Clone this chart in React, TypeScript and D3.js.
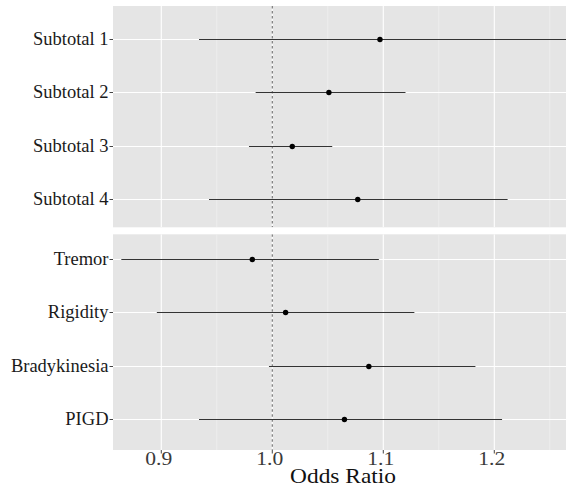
import React, { useEffect, useRef } from 'react';
import * as d3 from 'd3';

// data
const subtotalLabels = ['Subtotal 1', 'Subtotal 2', 'Subtotal 3', 'Subtotal 4'];
const subtotalOR = [1.097, 1.051, 1.018, 1.077];
const subtotalLower = [0.934, 0.985, 0.979, 0.943];
const subtotalUpper = [1.29, 1.12, 1.054, 1.212];

const domainLabels = ['Tremor', 'Rigidity', 'Bradykinesia', 'PIGD'];
const domainOR = [0.982, 1.012, 1.087, 1.065];
const domainLower = [0.864, 0.896, 0.997, 0.934];
const domainUpper = [1.096, 1.128, 1.183, 1.207];

const majorTicks = [0.9, 1.0, 1.1, 1.2];
const minorTicks = [0.95, 1.05, 1.15, 1.25];
const xDomain = [0.8565, 1.2646];

const serif = 'Liberation Serif';

const App = () => {
  const svgRef = useRef<SVGSVGElement>(null);

  useEffect(() => {
    const width = 566;
    const height = 489;
    const left = 113;
    const right = 566;

    const svg = d3.select(svgRef.current)
      .attr('width', width)
      .attr('height', height);
    svg.selectAll('*').remove();

    const x = d3.scaleLinear().domain(xDomain).range([left, right]);

    const panels = [
      { labels: subtotalLabels, or: subtotalOR, lo: subtotalLower, hi: subtotalUpper, top: 6, bottom: 227.3, first: 39, last: 199 },
      { labels: domainLabels, or: domainOR, lo: domainLower, hi: domainUpper, top: 234.3, bottom: 450, first: 259, last: 419 },
    ];

    const defs = svg.append('defs');

    panels.forEach((p, pi) => {
      const y = d3.scalePoint().domain(p.labels).range([p.first, p.last]);
      // crisp 1px horizontal strokes
      const yc = (d: string) => Math.round(y(d)!) + 0.5;
      const g = svg.append('g');
      const clipId = `clip${pi}`;
      defs.append('clipPath').attr('id', clipId)
        .append('rect').attr('x', left).attr('y', p.top).attr('width', right - left).attr('height', p.bottom - p.top);

      // panel background
      g.append('rect')
        .attr('x', left).attr('y', p.top)
        .attr('width', right - left).attr('height', p.bottom - p.top)
        .attr('fill', '#e5e5e5');

      const inner = g.append('g').attr('clip-path', `url(#${clipId})`);

      // grid
      inner.selectAll('.minor').data(minorTicks).join('line')
        .attr('x1', d => x(d)).attr('x2', d => x(d))
        .attr('y1', p.top).attr('y2', p.bottom)
        .attr('stroke', '#f4f4f4').attr('stroke-width', 0.6);
      inner.selectAll('.major').data(majorTicks).join('line')
        .attr('x1', d => x(d)).attr('x2', d => x(d))
        .attr('y1', p.top).attr('y2', p.bottom)
        .attr('stroke', '#ffffff').attr('stroke-width', 1.1);
      inner.selectAll('.hgrid').data(p.labels).join('line')
        .attr('x1', left).attr('x2', right)
        .attr('y1', yc).attr('y2', yc)
        .attr('stroke', '#ffffff').attr('stroke-width', 1.1);

      // reference line at OR = 1
      inner.append('line')
        .attr('x1', x(1)).attr('x2', x(1))
        .attr('y1', p.top).attr('y2', p.bottom)
        .attr('stroke', '#6e6e6e').attr('stroke-width', 1.1)
        .attr('stroke-dasharray', '2.5,2.5');

      // confidence intervals
      inner.selectAll('.ci').data(p.labels).join('line')
        .attr('x1', (d, i) => x(p.lo[i])).attr('x2', (d, i) => x(p.hi[i]))
        .attr('y1', yc).attr('y2', yc)
        .attr('stroke', '#333').attr('stroke-width', 1.1);

      inner.selectAll('.pt').data(p.labels).join('circle')
        .attr('cx', (d, i) => x(p.or[i]))
        .attr('cy', yc)
        .attr('r', 2.7)
        .attr('fill', '#000');

      // y axis ticks + labels
      g.selectAll('.ytick').data(p.labels).join('line')
        .attr('x1', left - 3.5).attr('x2', left)
        .attr('y1', yc).attr('y2', yc)
        .attr('stroke', '#444').attr('stroke-width', 1);
      g.selectAll('.ylab').data(p.labels).join('text')
        .attr('x', left - 4.5)
        .attr('y', d => y(d)!)
        .attr('dy', '0.33em')
        .attr('text-anchor', 'end')
        .attr('font-family', serif)
        .attr('font-size', 18.5)
        .attr('fill', '#1a1a1a')
        .text(d => d);
    });

    // x axis ticks
    const bottom = panels[1].bottom;
    svg.selectAll('.xtick').data(majorTicks).join('line')
      .attr('x1', d => x(d)).attr('x2', d => x(d))
      .attr('y1', bottom).attr('y2', bottom + 3.5)
      .attr('stroke', '#444').attr('stroke-width', 1);
    svg.selectAll('.xlab').data(majorTicks).join('text')
      .attr('transform', d => `translate(${x(d) - 2.5},${465}) scale(1.2,1)`)
      .attr('text-anchor', 'middle')
      .attr('font-family', serif)
      .attr('font-size', 18)
      .attr('fill', '#3a3a3a')
      .text(d => d3.format('.1f')(d));

    // axis title
    svg.append('text')
      .attr('transform', `translate(${343},${483}) scale(1.17,1)`)
      .attr('text-anchor', 'middle')
      .attr('font-family', serif)
      .attr('font-size', 20)
      .attr('fill', '#111')
      .text('Odds Ratio');
  }, []);

  return (
    <svg ref={svgRef} style={{ position: 'absolute', left: 0, top: 0 }}></svg>
  );
};

export default App;
